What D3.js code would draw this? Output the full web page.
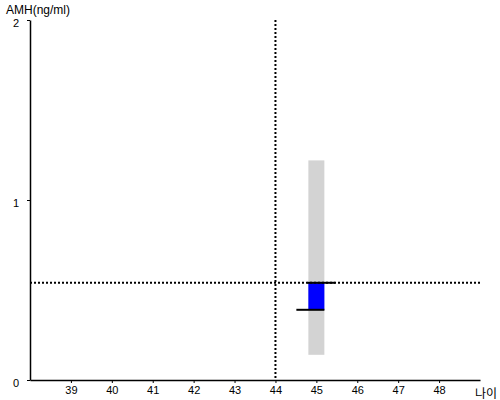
<!DOCTYPE html>
<html>
<head>
<meta charset="utf-8">
<script src="https://cdn.jsdelivr.net/npm/d3@7"></script>
<style>
  body { margin: 0; background: #fff; }
  text { font-family: "Liberation Sans", Arial, sans-serif; }
</style>
</head>
<body>
<script>
var width = 500;
var height = 400;

// data
var ageTicks = [39, 40, 41, 42, 43, 44, 45, 46, 47, 48];
var amhTicks = [0, 1, 2];
var myAge = 44;
var myAmh = 0.54;
var barAge = [45];
var rangeLow = [0.14];
var rangeHigh = [1.22];
var avgAmh = [0.39];

var xScale = d3.scaleLinear().domain([38, 49]).range([30, 480]);
var yScale = d3.scaleLinear().domain([0, 2]).range([380, 20]);

var svg = d3.select("body").append("svg")
  .attr("width", width)
  .attr("height", height);

var bars = barAge.map(function(a, i) {
  return { age: a, low: rangeLow[i], high: rangeHigh[i], avg: avgAmh[i] };
});

// grey range bar
svg.selectAll("rect.range")
  .data(bars)
  .enter()
  .append("rect")
  .attr("class", "range")
  .attr("x", function(d) { return xScale(d.age) - 8; })
  .attr("width", 16)
  .attr("y", function(d) { return yScale(d.high); })
  .attr("height", function(d) { return yScale(d.low) - yScale(d.high); })
  .attr("fill", "#d3d3d3");

// blue bar between average and my value
svg.selectAll("rect.diff")
  .data(bars)
  .enter()
  .append("rect")
  .attr("class", "diff")
  .attr("x", function(d) { return xScale(d.age) - 8; })
  .attr("width", 16)
  .attr("y", function(d) { return yScale(Math.max(d.avg, myAmh)); })
  .attr("height", function(d) { return Math.abs(yScale(d.avg) - yScale(myAmh)); })
  .attr("fill", "#0000ff");

// dotted guides
svg.append("line")
  .attr("x1", xScale(myAge)).attr("x2", xScale(myAge))
  .attr("y1", yScale(2)).attr("y2", yScale(0))
  .attr("stroke", "#000").attr("stroke-width", 2)
  .attr("stroke-dasharray", "2,2");

svg.append("line")
  .attr("x1", xScale(38)).attr("x2", xScale(49))
  .attr("y1", yScale(myAmh)).attr("y2", yScale(myAmh))
  .attr("stroke", "#000").attr("stroke-width", 2)
  .attr("stroke-dasharray", "2,2");

// black markers: my value (right) and average (left)
svg.selectAll("line.mine")
  .data(bars)
  .enter()
  .append("line")
  .attr("x1", function(d) { return xScale(d.age) - 9; })
  .attr("x2", function(d) { return xScale(d.age) + 19; })
  .attr("y1", yScale(myAmh)).attr("y2", yScale(myAmh))
  .attr("stroke", "#000").attr("stroke-width", 2);

svg.selectAll("line.avg")
  .data(bars)
  .enter()
  .append("line")
  .attr("x1", function(d) { return xScale(d.age) - 20; })
  .attr("x2", function(d) { return xScale(d.age) + 8; })
  .attr("y1", function(d) { return yScale(d.avg); })
  .attr("y2", function(d) { return yScale(d.avg); })
  .attr("stroke", "#000").attr("stroke-width", 2);

// axes
var xAxis = d3.axisBottom(xScale)
  .tickValues(ageTicks)
  .tickSize(3)
  .tickSizeOuter(0)
  .tickPadding(3)
  .tickFormat(d3.format("d"));

var yAxis = d3.axisLeft(yScale)
  .tickValues(amhTicks)
  .tickSize(3)
  .tickSizeOuter(0)
  .tickPadding(8)
  .tickFormat(d3.format("d"));

var gx = svg.append("g")
  .attr("transform", "translate(0," + yScale(0) + ")")
  .call(xAxis);

var gy = svg.append("g")
  .attr("transform", "translate(" + xScale(38) + ",0)")
  .call(yAxis);

[gx, gy].forEach(function(g) {
  g.select(".domain").attr("stroke", "#000").attr("stroke-width", 1.5);
  g.selectAll(".tick line").attr("stroke", "#000");
  g.selectAll(".tick text").attr("fill", "#000")
    .style("font-family", "'Liberation Sans', Arial, sans-serif")
    .style("font-size", "11px");
});
gy.selectAll(".tick text").attr("dy", "0.55em");

// axis titles
svg.append("text")
  .attr("x", 6).attr("y", 14)
  .style("font-size", "12px")
  .attr("fill", "#000")
  .text("AMH(ng/ml)");

svg.append("text")
  .attr("x", 475).attr("y", 398)
  .style("font-size", "12px")
  .style("font-family", "'Noto Sans CJK KR', sans-serif")
  .attr("fill", "#000")
  .text("나이");
</script>
</body>
</html>
